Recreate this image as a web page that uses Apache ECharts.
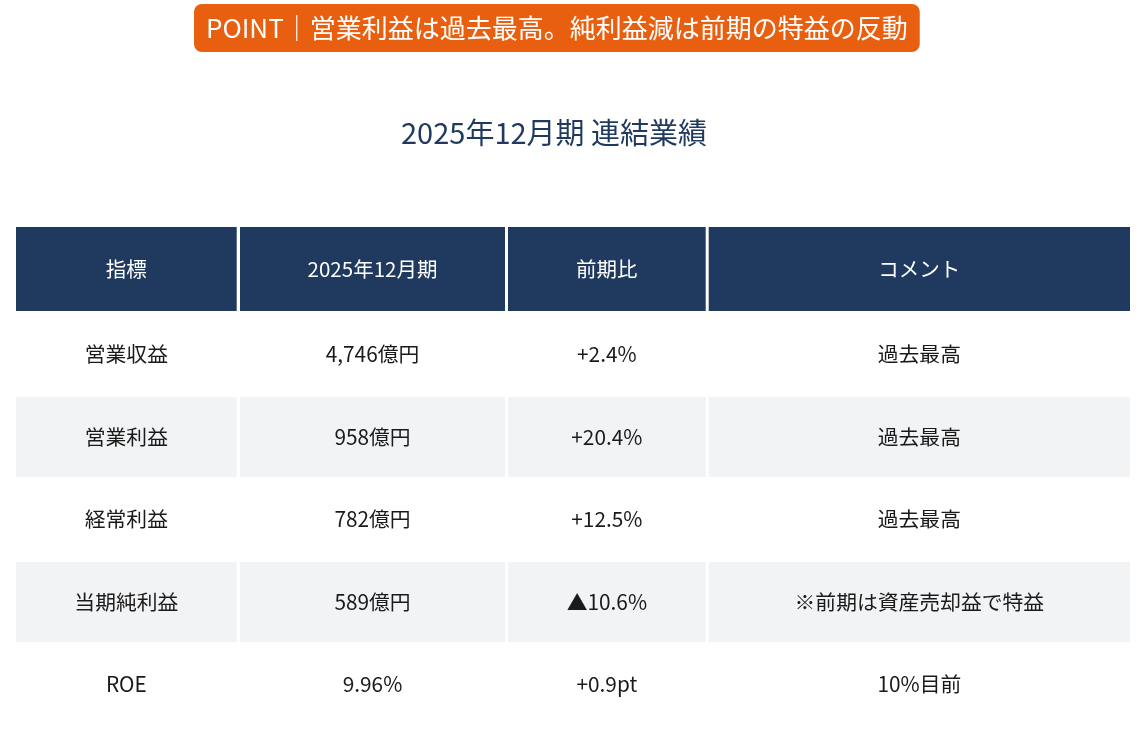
<!DOCTYPE html>
<html>
<head>
<meta charset="utf-8">
<script src="https://cdn.jsdelivr.net/npm/echarts@6/dist/echarts.min.js"></script>
<style>
html, body { margin: 0; padding: 0; background: #fff; }
#main { width: 1146px; height: 741px; }
</style>
</head>
<body>
<div id="main"></div>
<script>
// 表の中身
var headers = ['指標', '2025年12月期', '前期比', 'コメント'];
var metrics = ['営業収益', '営業利益', '経常利益', '当期純利益', 'ROE'];
var results = ['4,746億円', '958億円', '782億円', '589億円', '9.96%'];
var changes = ['+2.4%', '+20.4%', '+12.5%', '▲10.6%', '+0.9pt'];
var comments = ['過去最高', '過去最高', '過去最高', '※前期は資産売却益で特益', '10%目前'];

// セルの枠 (grid内の座標)
var colEdges = [[0, 220.7], [224, 489], [492, 689.7], [692.7, 1114]];
var rowEdges = [[0, 84], [87.5, 167.5], [170, 250], [252.5, 332.5], [335, 415], [417.5, 497.5]];

var FONT = '"Noto Sans CJK JP", "Noto Sans", sans-serif';

var cells = [];
headers.forEach(function (h, c) { cells.push([c, 0, h]); });
metrics.forEach(function (m, i) {
    var r = i + 1;
    cells.push([0, r, m]);
    cells.push([1, r, results[i]]);
    cells.push([2, r, changes[i]]);
    cells.push([3, r, comments[i]]);
});

function renderCell(params, api) {
    var c = api.value(0), r = api.value(1);
    var text = cells[params.dataIndex][2];
    var p0 = api.coord([colEdges[c][0], rowEdges[r][0]]);
    var p1 = api.coord([colEdges[c][1], rowEdges[r][1]]);
    var fill = r === 0 ? '#1f3a5e' : (r % 2 === 0 ? '#f2f3f5' : '#ffffff');
    return {
        type: 'group',
        children: [{
            type: 'rect',
            shape: { x: p0[0], y: p0[1], width: p1[0] - p0[0], height: p1[1] - p0[1] },
            style: { fill: fill }
        }, {
            type: 'text',
            x: (p0[0] + p1[0]) / 2,
            y: (p0[1] + p1[1]) / 2,
            style: {
                text: text,
                fill: r === 0 ? '#ffffff' : '#1a1a1a',
                fontFamily: FONT,
                fontSize: r === 0 ? 20.5 : 20.8,
                align: 'center',
                verticalAlign: 'middle'
            }
        }]
    };
}

var chart = echarts.init(document.getElementById('main'));
chart.setOption({
    backgroundColor: '#ffffff',
    animation: false,
    title: [{
        text: 'POINT｜営業利益は過去最高。純利益減は前期の特益の反動',
        left: 194,
        top: 4,
        padding: [8, 12],
        backgroundColor: '#e8600f',
        borderRadius: 8,
        textStyle: { color: '#ffffff', fontSize: 26, fontWeight: 'normal', fontFamily: FONT, lineHeight: 32 }
    }, {
        text: '2025年12月期 連結業績',
        left: 401,
        top: 115,
        padding: 0,
        textStyle: { color: '#1f3a5e', fontSize: 29, fontWeight: 'normal', fontFamily: FONT, lineHeight: 36 }
    }],
    grid: { left: 16, top: 227, width: 1114, height: 498 },
    xAxis: { type: 'value', min: 0, max: 1114, show: false },
    yAxis: { type: 'value', min: 0, max: 498, inverse: true, show: false },
    series: [{
        type: 'custom',
        coordinateSystem: 'cartesian2d',
        renderItem: renderCell,
        encode: { x: 0, y: 1 },
        data: cells.map(function (d) { return [d[0], d[1]]; })
    }]
});
</script>
</body>
</html>
